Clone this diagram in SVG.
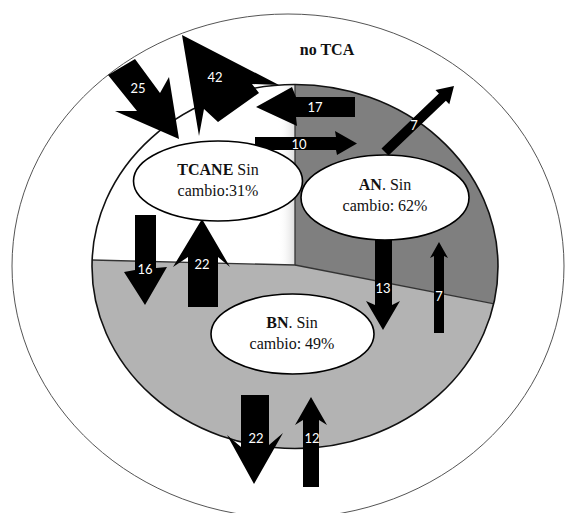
<svg xmlns="http://www.w3.org/2000/svg" width="569" height="513" viewBox="0 0 569 513">
  <style>
    .bg { fill: #ffffff; }
    .outer { fill: #ffffff; stroke: #555555; stroke-width: 1; }
    .inner-edge { fill: none; stroke: #111111; stroke-width: 1.6; }
    .divider { stroke: #333333; stroke-width: 1.3; fill: none; }
    .an { fill: #7f7f7f; }
    .bn { fill: #b3b3b3; }
    .state { fill: #ffffff; stroke: #000000; stroke-width: 1.6; }
    .lbl { font-family: "Liberation Serif", "Times New Roman", serif; font-size: 16px; fill: #111111; text-anchor: middle; }
    .b { font-weight: bold; }
    .arrow { fill: #000000; }
    .num { font-family: Lato, "Open Sans", "DejaVu Sans", sans-serif; font-size: 13px; fill: #ffffff; text-anchor: middle; dominant-baseline: central; }
  </style>
  <defs>
    <clipPath id="innerClip">
      <ellipse cx="295" cy="266.5" rx="203" ry="182"/>
    </clipPath>
    <linearGradient id="shade" x1="0" y1="0" x2="1" y2="0">
      <stop offset="0" stop-color="#ffffff" stop-opacity="0"/>
      <stop offset="1" stop-color="#dcdcdc" stop-opacity="1"/>
    </linearGradient>
  </defs>

  <rect class="bg" x="0" y="0" width="569" height="513"/>

  <!-- outer ring: no TCA -->
  <g id="node-noTCA">
    <ellipse class="outer" cx="288" cy="266" rx="276" ry="252"/>
    <text class="lbl b" x="327" y="55">no TCA</text>
  </g>

  <!-- inner disc split into three sectors -->
  <g id="sectors">
    <g clip-path="url(#innerClip)">
      <rect x="90" y="80" width="410" height="375" fill="#ffffff"/>
      <rect x="278" y="80" width="17" height="186" fill="url(#shade)"/>
      <polygon class="an" points="295,70 520,70 520,309 295,265"/>
      <polygon class="bn" points="70,259.4 295,265 520,309 520,470 70,470"/>
      <polyline class="divider" points="80,259.7 295,265 295,80"/>
      <line class="divider" x1="295" y1="265" x2="520" y2="309"/>
    </g>
    <ellipse class="inner-edge" cx="295" cy="266.5" rx="203" ry="182"/>
  </g>

  <!-- transition arrows with their counts -->
  <g id="connectors">
    <polygon class="arrow" points="108,75 135,59 160,93 169,77 179,139 115,111 137,111"/>
    <text class="num" x="138" y="88">25</text>

    <polygon class="arrow" points="182,35 279,85 252,84 259,93 218,122 204,109 199,136"/>
    <text class="num" x="215" y="77">42</text>

    <polygon class="arrow" points="355,97 296,97 292,87 256,107 297,126 296,117 355,117"/>
    <text class="num" x="315" y="107">17</text>

    <polygon class="arrow" points="255,137 336,137 335,131 357,143.5 337,155 336,150 255,150"/>
    <text class="num" x="299" y="144">10</text>

    <polygon class="arrow" points="381.5,148.4 438.9,93.5 435.5,89.9 454,86 449.3,104.3 445.9,100.7 388.5,155.6"/>
    <text class="num" x="414" y="125">7</text>

    <polygon class="arrow" points="135,215 156,215 156,268 167,267 145,305 124,272 135,270"/>
    <text class="num" x="145" y="269">16</text>

    <polygon class="arrow" points="188,307 188,257 173,267 202,219 230,267 218,257 218,307"/>
    <text class="num" x="202" y="264">22</text>

    <polygon class="arrow" points="375,235 392,235 392,305 400,301 383,330 366,301 375,305"/>
    <text class="num" x="383" y="288">13</text>

    <polygon class="arrow" points="434,333 434,256 430,258 439,242 448,258 444,256 444,333"/>
    <text class="num" x="439" y="296">7</text>

    <polygon class="arrow" points="241,395 269,395 269,445 283,433 254,484 227,435 241,447"/>
    <text class="num" x="256" y="438">22</text>

    <polygon class="arrow" points="303,487 303,420 295,425 311,397 327,425 319,420 319,487"/>
    <text class="num" x="312" y="438">12</text>
  </g>

  <!-- state nodes -->
  <g id="node-TCANE">
    <ellipse class="state" cx="218" cy="181" rx="84.5" ry="40"/>
    <text class="lbl" x="218" y="175"><tspan class="b">TCANE</tspan> Sin</text>
    <text class="lbl" x="218" y="196">cambio:31%</text>
  </g>

  <g id="node-AN">
    <ellipse class="state" cx="385" cy="197.5" rx="84" ry="42.5"/>
    <text class="lbl" x="385" y="190"><tspan class="b">AN</tspan>. Sin</text>
    <text class="lbl" x="385" y="211">cambio: 62%</text>
  </g>

  <g id="node-BN">
    <ellipse class="state" cx="292.5" cy="334" rx="81.5" ry="40"/>
    <text class="lbl" x="292" y="328"><tspan class="b">BN</tspan>. Sin</text>
    <text class="lbl" x="292" y="349">cambio: 49%</text>
  </g>
</svg>
